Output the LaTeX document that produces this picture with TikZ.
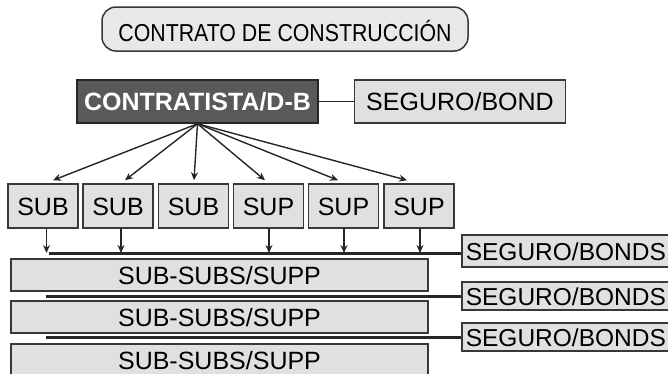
\documentclass[tikz,border=0pt]{standalone}
\usepackage{fontspec}
\setmainfont{Liberation Sans}
\newfontfamily\titlefont[FakeStretch=0.87]{Liberation Sans}
\usetikzlibrary{arrows.meta}

\begin{document}
\begin{tikzpicture}[x=1pt,y=-1pt,>={Stealth[length=8pt,width=7pt]}]
    \tikzstyle{box}=[draw=black!78,fill=black!12,line width=1.5pt,inner sep=0pt,text height=18pt,text depth=0pt,font=\fontsize{25}{28}\selectfont]
    \tikzstyle{title box}=[box,fill=black!9,rounded corners=14pt,text height=24pt,font=\titlefont\fontsize{24.5}{28}\selectfont]
    \tikzstyle{main box}=[box,fill=black!65,draw=black!85,text=white,font=\bfseries\fontsize{25}{28}\selectfont]
    \tikzstyle{sub box}=[box,minimum width=70pt,minimum height=44pt]
    \tikzstyle{subsub box}=[box,minimum width=417pt,minimum height=32pt]
    \tikzstyle{bond box}=[box,anchor=west,inner xsep=4pt,font=\fontsize{24.5}{28}\selectfont]
    \tikzstyle{arrow}=[->,black!85,line width=1.4pt]
    \tikzstyle{bus}=[black!85,line width=3pt]

    \useasboundingbox (0,0) rectangle (668,373);
    \clip (0,0) rectangle (668,373);

    % Draw the contract, the contractor and its bond
    \node[title box, minimum width=366pt, minimum height=44pt] (T) at (285,29) {CONTRATO DE CONSTRUCCIÓN};
    \node[main box, minimum width=241pt, minimum height=43pt] (C) at (197.5,101.5) {CONTRATISTA/D-B};
    \node[box, minimum width=211pt, minimum height=43pt] (B) at (460,101.5) {SEGURO/BOND};
    \draw[black!85, line width=1.8pt] (C) -- (B);

    % Draw the subs and suppliers
    \foreach \name / \x / \t in {1/43/SUB, 2/118/SUB, 3/193.5/SUB, 4/268.5/SUP, 5/343.5/SUP, 6/419/SUP}
        \node[sub box] (S-\name) at (\x,206) {\t};

    % Draw the sub-subs
    \foreach \name / \y in {1/275, 2/317, 3/360}
        \node[subsub box] (SS-\name) at (219.5,\y) {SUB-SUBS/SUPP};

    % Draw the bonds of every level
    \foreach \name / \y / \h in {1/251/32pt, 2/296/28pt, 3/337/28pt}
        \node[bond box, minimum height=\h] (BS-\name) at (461,\y) {SEGURO/BONDS};

    % Lines to the bonds
    \coordinate (L-1) at (49,253);
    \coordinate (L-2) at (46,296);
    \coordinate (L-3) at (46,337);
    \foreach \name in {1,2,3}
        \draw[bus] (L-\name) -- (L-\name -| BS-\name.west);

    % Connect the contractor with every sub
    \foreach \name / \dx in {1/10, 2/7, 3/0.5, 4/-3.5, 5/-5.5, 6/-12}
        \draw[arrow] (C.south) -- ([xshift=\dx pt, yshift=3pt]S-\name.north);

    % Connect the subs with the first line
    \foreach \name / \dx in {1/3.5, 2/3, 4/0.5, 5/0.5, 6/1}
        \draw[arrow] ([xshift=\dx pt]S-\name.south) -- ([xshift=\dx pt]S-\name.south |- L-1);

\end{tikzpicture}
\end{document}
